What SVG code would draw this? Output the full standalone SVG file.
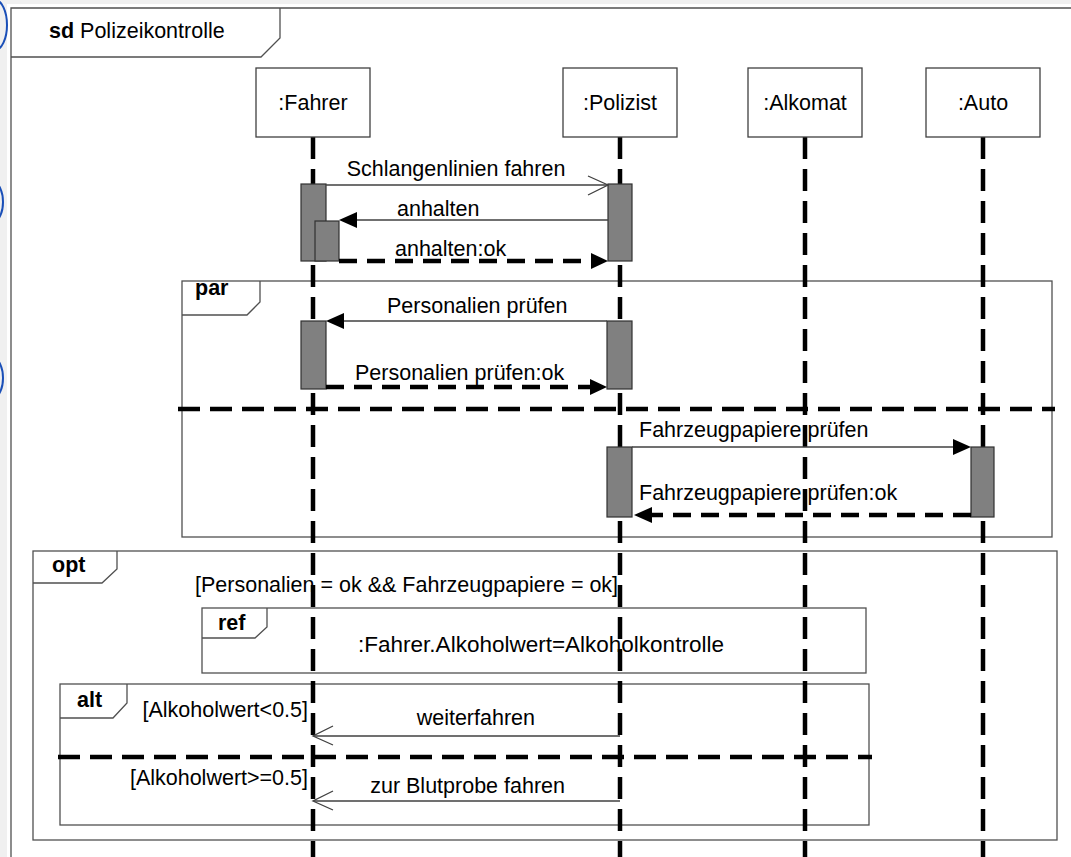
<svg xmlns="http://www.w3.org/2000/svg" width="1071" height="857" viewBox="0 0 1071 857">
<style>
  text { font-family: "Liberation Sans", Arial, sans-serif; font-size: 21.5px; fill: #000; }
  .b { font-weight: bold; }
  .frame { fill: none; stroke: #505050; stroke-width: 1.3; }
  .box { fill: #fff; stroke: #404040; stroke-width: 1.3; }
  .life { stroke: #000; stroke-width: 4.5; stroke-dasharray: 22 10; fill: none; }
  .act { fill: #808080; stroke: #303030; stroke-width: 1.2; }
  .msg { stroke: #404040; stroke-width: 1.3; fill: none; }
  .ret { stroke: #000; stroke-width: 4.5; stroke-dasharray: 18 10; fill: none; }
  .sep { stroke: #000; stroke-width: 4.5; stroke-dasharray: 22 10; fill: none; }
  .head { fill: #000; stroke: none; }
  .open { fill: none; stroke: #404040; stroke-width: 1.3; }
  .mark { fill: none; stroke: #1a4fb8; stroke-width: 2; }
</style>
<rect x="0" y="0" width="1071" height="857" fill="#ffffff"/>
<g id="chrome">
  <rect x="0" y="0" width="1071" height="4" fill="#f0f0f0"/>
  <rect x="0" y="0" width="7" height="857" fill="#f0f0f0"/>
  <ellipse class="mark" cx="-5" cy="25" rx="12" ry="25"/>
  <ellipse class="mark" cx="-6" cy="202" rx="9" ry="19"/>
  <ellipse class="mark" cx="-6" cy="378" rx="9" ry="19"/>
</g>
<g id="frame-sd">
  <path class="frame" d="M11,857 V8 H1071"/>
  <path class="frame" d="M11,57 H261 L280,38 V8"/>
  <text x="49" y="38"><tspan class="b">sd</tspan> Polizeikontrolle</text>
</g>
<g id="frame-par">
  <rect class="frame" x="182" y="281" width="870" height="256"/>
  <path class="frame" d="M182,315 H247 L260,302 V281"/>
  <text class="b" x="195" y="295">par</text>
</g>
<g id="frame-opt">
  <rect class="frame" x="33" y="551" width="1024" height="289"/>
  <path class="frame" d="M33,583 H102 L117,569 V551"/>
  <text class="b" x="52" y="572">opt</text>
  <text x="195" y="592">[Personalien = ok &amp;&amp; Fahrzeugpapiere = ok]</text>
</g>
<g id="frame-ref">
  <rect class="frame" x="202" y="608" width="664" height="65"/>
  <path class="frame" d="M202,638 H255 L267,627 V608"/>
  <text class="b" x="218" y="630">ref</text>
  <text x="541" y="652" text-anchor="middle" style="font-size:22.5px">:Fahrer.Alkoholwert=Alkoholkontrolle</text>
</g>
<g id="frame-alt">
  <rect class="frame" x="60" y="684" width="809" height="141"/>
  <path class="frame" d="M60,718 H113 L127,703 V684"/>
  <text class="b" x="77" y="707">alt</text>
  <text x="308" y="717" text-anchor="end">[Alkoholwert&lt;0.5]</text>
  <text x="308" y="785" text-anchor="end">[Alkoholwert&gt;=0.5]</text>
</g>
<g id="lifelines">
  <line class="life" x1="313" y1="137" x2="313" y2="857"/>
  <line class="life" x1="620" y1="137" x2="620" y2="857"/>
  <line class="life" x1="805" y1="137" x2="805" y2="857"/>
  <line class="life" x1="983" y1="137" x2="983" y2="857"/>
</g>
<g id="separators">
  <line class="sep" x1="178" y1="409" x2="1055" y2="409"/>
  <line class="sep" x1="58" y1="757" x2="872" y2="757"/>
</g>
<g id="fahrer">
  <rect class="box" x="256" y="68" width="114" height="69"/>
  <text x="313" y="110" text-anchor="middle">:Fahrer</text>
</g>
<g id="polizist">
  <rect class="box" x="563" y="68" width="114" height="69"/>
  <text x="620" y="110" text-anchor="middle">:Polizist</text>
</g>
<g id="alkomat">
  <rect class="box" x="748" y="68" width="114" height="69"/>
  <text x="805" y="110" text-anchor="middle">:Alkomat</text>
</g>
<g id="auto">
  <rect class="box" x="926" y="68" width="114" height="69"/>
  <text x="983" y="110" text-anchor="middle">:Auto</text>
</g>
<g id="activations">
  <rect class="act" x="301" y="184" width="25" height="77"/>
  <rect class="act" x="315" y="221" width="24" height="40"/>
  <rect class="act" x="608" y="184" width="24" height="77"/>
  <rect class="act" x="301" y="321" width="25" height="68"/>
  <rect class="act" x="607" y="321" width="25" height="68"/>
  <rect class="act" x="607" y="447" width="25" height="70"/>
  <rect class="act" x="971" y="447" width="23" height="70"/>
</g>
<g id="connectors">
  <line class="msg" x1="326" y1="185" x2="608" y2="185"/>
  <polyline class="open" points="588,176 608,185 588,195"/>
  <text x="456" y="176" text-anchor="middle">Schlangenlinien fahren</text>

  <line class="msg" x1="608" y1="220" x2="350" y2="220"/>
  <polygon class="head" points="339,220 357,212 357,228"/>
  <text x="397" y="216">anhalten</text>

  <line class="ret" x1="339" y1="261" x2="594" y2="261"/>
  <polygon class="head" points="608,261 591,253 591,269"/>
  <text x="395" y="256">anhalten:ok</text>

  <line class="msg" x1="607" y1="321" x2="336" y2="321"/>
  <polygon class="head" points="326,321 344,313 344,329"/>
  <text x="387" y="313">Personalien prüfen</text>

  <line class="ret" x1="326" y1="387" x2="593" y2="387"/>
  <polygon class="head" points="607,387 590,379 590,395"/>
  <text x="355" y="380">Personalien prüfen:ok</text>

  <line class="msg" x1="632" y1="447" x2="960" y2="447"/>
  <polygon class="head" points="971,447 953,439 953,455"/>
  <text x="639" y="437">Fahrzeugpapiere prüfen</text>

  <line class="ret" x1="971" y1="515" x2="648" y2="515"/>
  <polygon class="head" points="634,515 652,507 652,523"/>
  <text x="639" y="500">Fahrzeugpapiere prüfen:ok</text>

  <line class="msg" x1="620" y1="736" x2="314" y2="736"/>
  <polyline class="open" points="333,726 313,736 333,745"/>
  <text x="535" y="725" text-anchor="end">weiterfahren</text>

  <line class="msg" x1="620" y1="801" x2="314" y2="801"/>
  <polyline class="open" points="333,791 313,801 333,810"/>
  <text x="565" y="793" text-anchor="end">zur Blutprobe fahren</text>
</g>
</svg>
